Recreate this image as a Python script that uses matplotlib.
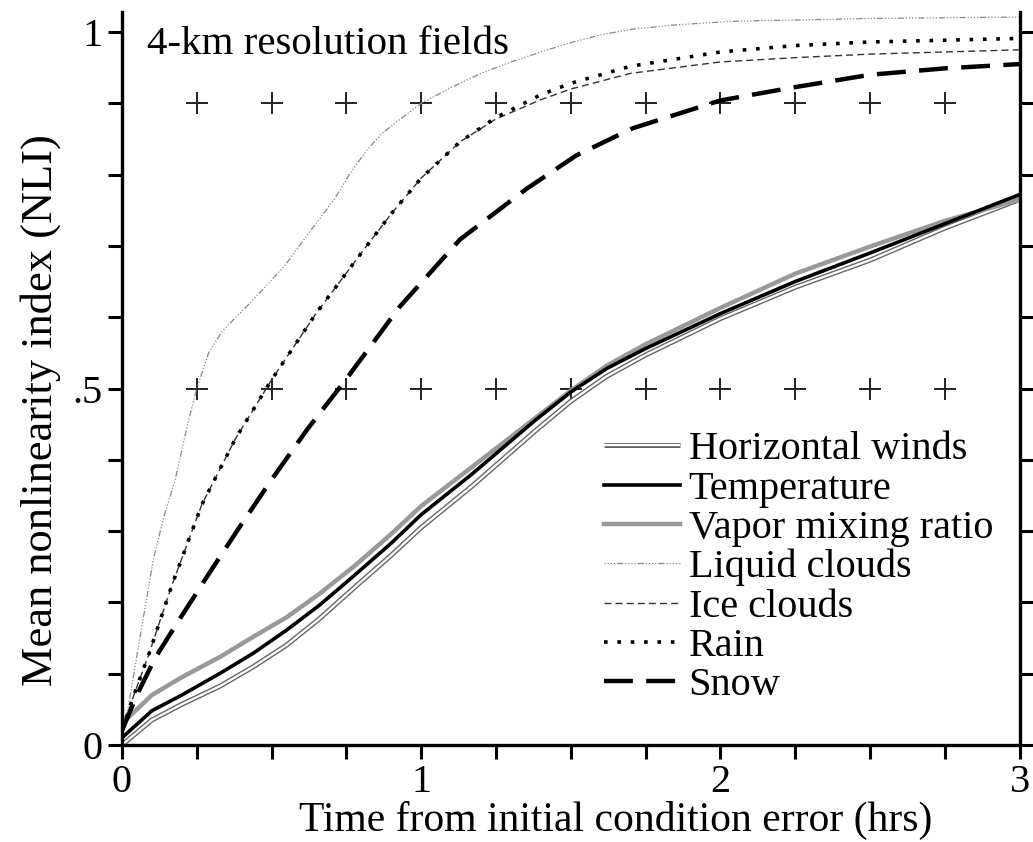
import matplotlib
matplotlib.use("Agg")
import matplotlib.pyplot as plt
from matplotlib.legend_handler import HandlerTuple

plt.rcParams['font.family'] = ['Liberation Serif', 'DejaVu Serif']

# values (NLI vs hours)
t_low = [0, 0.1, 0.2, 0.33, 0.44, 0.55, 0.66, 0.78, 0.9, 1.0, 1.17, 1.38, 1.5, 1.62, 1.75, 2.0, 2.25, 2.5, 2.75, 3.0]
temperature = [0.01, 0.048, 0.07, 0.101, 0.129, 0.161, 0.196, 0.239, 0.283, 0.323, 0.38, 0.455, 0.495, 0.528, 0.556, 0.605, 0.65, 0.69, 0.731, 0.772]
vapor = [0.03, 0.07, 0.095, 0.124, 0.152, 0.179, 0.212, 0.252, 0.296, 0.335, 0.39, 0.458, 0.497, 0.532, 0.562, 0.613, 0.661, 0.699, 0.735, 0.765]
winds = [0.0, 0.035, 0.057, 0.083, 0.11, 0.14, 0.177, 0.222, 0.266, 0.305, 0.363, 0.44, 0.482, 0.517, 0.547, 0.598, 0.642, 0.68, 0.725, 0.765]

t_liq = [0, 0.02, 0.06, 0.105, 0.14, 0.178, 0.22, 0.25, 0.29, 0.333, 0.367, 0.41, 0.46, 0.544, 0.628,
         0.711, 0.76, 0.818, 0.87, 0.934, 1.0, 1.1, 1.2, 1.3, 1.4, 1.5, 1.6, 1.707, 1.85, 2.04, 2.5, 3.0]
liquid = [0.02, 0.05, 0.15, 0.26, 0.32, 0.372, 0.45, 0.5, 0.55, 0.579, 0.594, 0.612, 0.634, 0.672, 0.72,
          0.766, 0.8, 0.834, 0.858, 0.879, 0.9, 0.922, 0.942, 0.958, 0.972, 0.985, 0.996, 1.004, 1.01, 1.015, 1.019, 1.021]

t_mid = [0, 0.04, 0.089, 0.167, 0.267, 0.38, 0.5, 0.65, 0.8, 0.9, 1.0, 1.13, 1.25, 1.4, 1.5, 1.7, 2.0, 2.25, 2.5, 3.0]
rain = [0.02, 0.07, 0.126, 0.224, 0.337, 0.43, 0.512, 0.606, 0.69, 0.745, 0.795, 0.846, 0.88, 0.912, 0.928, 0.952, 0.972, 0.981, 0.986, 0.991]
ice = [0.02, 0.07, 0.126, 0.224, 0.337, 0.43, 0.512, 0.606, 0.69, 0.745, 0.795, 0.846, 0.878, 0.905, 0.92, 0.942, 0.958, 0.964, 0.969, 0.975]

t_snow = [0, 0.05, 0.111, 0.183, 0.278, 0.389, 0.5, 0.62, 0.744, 0.929, 1.13, 1.352, 1.519, 1.707, 2.0, 2.24, 2.5, 2.75, 3.0]
snow = [0.02, 0.07, 0.122, 0.17, 0.232, 0.303, 0.372, 0.443, 0.51, 0.615, 0.709, 0.78, 0.827, 0.865, 0.904, 0.922, 0.94, 0.949, 0.955]

cross_times = [0.25, 0.5, 0.75, 1.0, 1.25, 1.5, 1.75, 2.0, 2.25, 2.5, 2.75]
cross_levels = [0.9, 0.5]

fig = plt.figure(figsize=(10.33, 8.42), dpi=100)
ax = fig.add_axes([0.118, 0.1152, 0.869, 0.8705])

for lev in cross_levels:
    ax.plot(cross_times, [lev] * len(cross_times), ls='none', marker='+',
            ms=16, mew=1.4, color='#222222')

w1, = ax.plot(t_low, winds, color='#666666', lw=3.6, solid_capstyle='butt')
w2, = ax.plot(t_low, winds, color='white', lw=1.6, solid_capstyle='butt')
vp, = ax.plot(t_low, vapor, color='#999999', lw=3.2)
tp, = ax.plot(t_low, temperature, color='black', lw=2.6)
lq, = ax.plot(t_liq, liquid, color='#888888', lw=0.9,
              ls=(0, (1, 1.5, 1, 1.5, 1, 1.5, 1, 1.5, 5, 1.5)))
ic, = ax.plot(t_mid, ice, color='#333333', lw=1.0, ls=(0, (5, 3)))
rn, = ax.plot(t_mid, rain, color='black', lw=2.6, ls=(0, (1, 2.7)))
sn, = ax.plot(t_snow, snow, color='black', lw=3.2, ls=(0, (6.5, 3)))

ax.set_xlim(0, 3)
ax.set_ylim(0, 1.028)
ax.spines['top'].set_visible(False)
for s in ['left', 'right', 'bottom']:
    ax.spines[s].set_linewidth(2.4)

ax.set_xticks([0, 1, 2, 3])
ax.set_xticklabels(['0', '1', '2', '3'])
ax.set_xticks([0.25, 0.5, 0.75, 1.25, 1.5, 1.75, 2.25, 2.5, 2.75], minor=True)
ax.set_yticks([0, 0.5, 1])
ax.set_yticklabels(['0', '.5', '1'])
ax.set_yticks([0.1, 0.2, 0.3, 0.4, 0.6, 0.7, 0.8, 0.9], minor=True)
ax.tick_params(axis='both', which='both', direction='out', width=2.2, length=10,
               labelsize=29, pad=4)
ax.tick_params(axis='y', which='both', right=True, left=True, labelright=False)
ax.tick_params(axis='x', which='both', top=False)

ax.set_xlabel('Time from initial condition error (hrs)', fontsize=30)
ax.xaxis.set_label_coords(0.55, -0.076)
ax.set_ylabel('Mean nonlinearity index (NLI)', fontsize=32)
ax.yaxis.set_label_coords(-0.068, 0.457)
ax.text(0.085, 0.982, '4-km resolution fields', fontsize=29.5, va='center', ha='left')

handles = [(w1, w2), tp, vp, lq, ic, rn, sn]
labels = ['Horizontal winds', 'Temperature', 'Vapor mixing ratio', 'Liquid clouds',
          'Ice clouds', 'Rain', 'Snow']
ax.legend(handles, labels, handler_map={tuple: HandlerTuple(ndivide=1)},
          loc='upper left', bbox_to_anchor=(0.537, 0.428), frameon=False,
          fontsize=29, handlelength=1.9, handletextpad=0.2, labelspacing=0.05,
          borderpad=0, borderaxespad=0)

fig.savefig('out.png', dpi=100)
